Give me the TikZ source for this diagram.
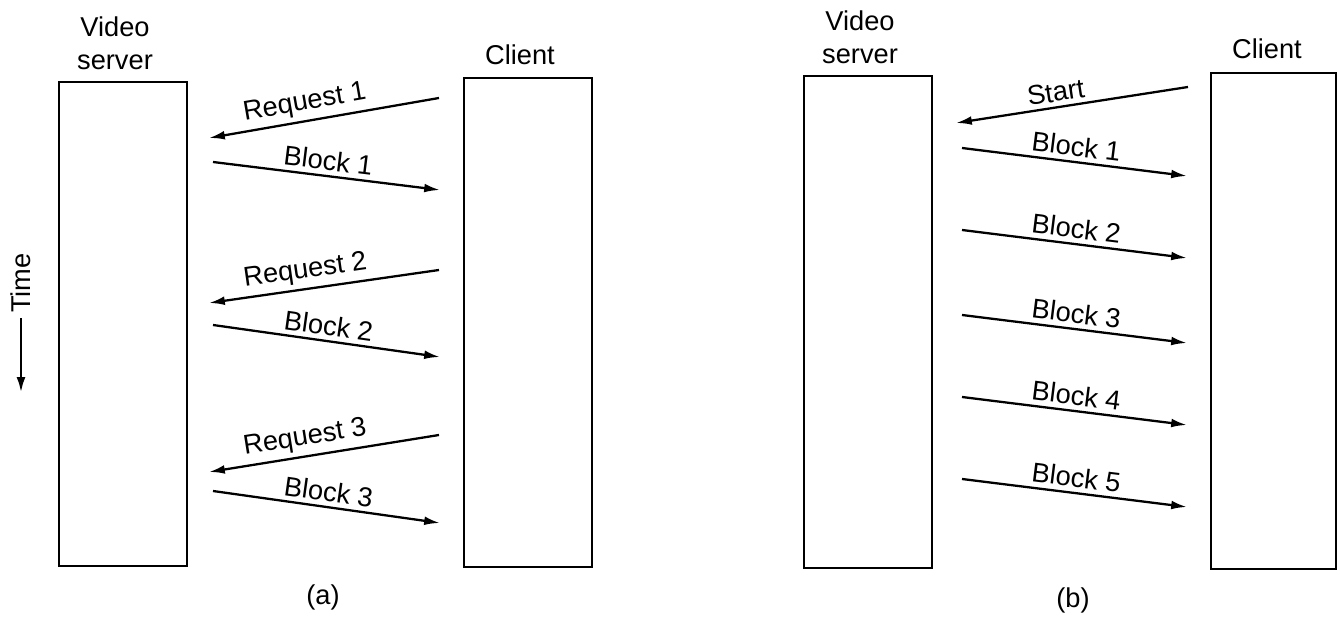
\documentclass[tikz,border=0pt]{standalone}
\usepackage{fontspec}
\setmainfont{Liberation Sans}
\usetikzlibrary{arrows.meta,positioning}

\begin{document}
\begin{tikzpicture}[x=0.02cm,y=-0.02cm,>={Latex[length=9pt,width=5pt]},
  every node/.style={font=\fontsize{15.5}{18.7}\selectfont},
  lane/.style={draw,line width=1.2pt,inner sep=0pt,anchor=north west},
  msg/.style={->,line width=1.3pt},
  tag/.style={above,sloped,inner sep=2.5pt}]
\useasboundingbox (0,0) rectangle (1340,617);
% (a) one request for every block
\node[lane,minimum width=2.56cm,minimum height=9.68cm] (srvA) at (58,81) {};
\node[lane,minimum width=2.56cm,minimum height=9.78cm] (cliA) at (463,77) {};
\node[align=center] (srvAlbl) at (115,43) {Video\\server};
\node (cliAlbl) at (520,55) {Client};
\node[rotate=90,inner sep=3pt] (time) at (21,283) {Time};
\coordinate (timeEnd) at (21,393);
\draw[msg,line width=1.6pt] (time.west) -- (timeEnd);
\foreach \i/\ya/\yb/\yc/\yd in {1/98/138/162/190,2/270/303/325/357,3/435/472/491/523}{
  \coordinate (reqAs\i) at (439,\ya);
  \coordinate (reqAe\i) at (209,\yb);
  \coordinate (blkAs\i) at (213,\yc);
  \coordinate (blkAe\i) at (440,\yd);
  \draw[msg,<-] (reqAe\i) -- node[tag,pos=0.43] {Request \i} (reqAs\i);
  \draw[msg] (blkAs\i) -- node[tag] {Block \i} (blkAe\i);
}
\node (capA) at (323,597) {(a)};
% (b) one start, then a steady stream
\node[lane,minimum width=2.56cm,minimum height=9.84cm] (srvB) at (803,75) {};
\node[lane,minimum width=2.5cm,minimum height=9.92cm] (cliB) at (1210,72) {};
\node[align=center] (srvBlbl) at (860,37) {Video\\server};
\node (cliBlbl) at (1267,49) {Client};
\coordinate (startS) at (1188,87);
\coordinate (startE) at (956,123);
\draw[msg,<-] (startE) -- node[tag,pos=0.44] {Start} (startS);
\foreach \i/\y in {1/148,2/230,3/315,4/397,5/479}{
  \coordinate (blkBs\i) at (962,\y);
  \coordinate (blkBe\i) at (1187,\y+28);
  \draw[msg] (blkBs\i) -- node[tag] {Block \i} (blkBe\i);
}
\node (capB) at (1073,600) {(b)};
\end{tikzpicture}
\end{document}
